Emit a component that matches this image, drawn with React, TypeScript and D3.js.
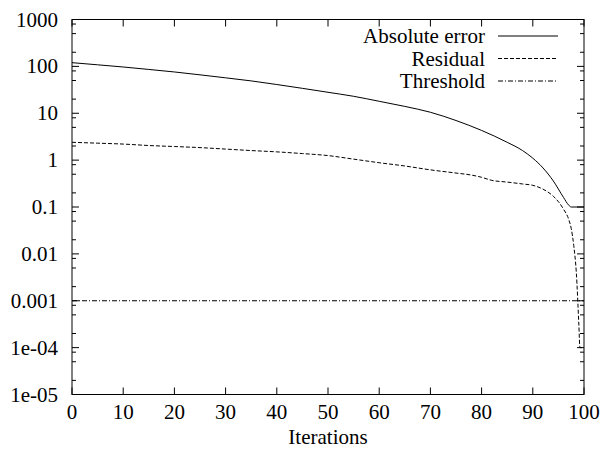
import React from 'react';
import * as d3 from 'd3';

// values
const absIter = [0, 5, 10, 15, 20, 25, 30, 35, 40, 45, 50, 55, 60, 65, 70, 75, 80, 85, 88, 90, 92, 94, 96, 97, 97.5, 100];
const absErr = [120, 108, 97, 86, 76, 66, 57, 49, 41, 34, 28, 23, 18, 14, 10.5, 7, 4.3, 2.4, 1.6, 1.1, 0.68, 0.36, 0.16, 0.11, 0.1, 0.1];

const resIter = [0, 5, 10, 15, 20, 25, 30, 35, 40, 45, 50, 55, 60, 65, 70, 75, 78, 80, 82, 85, 88, 90, 92, 94, 95, 96, 97, 97.5, 98, 98.5, 99, 99.2, 100];
const resVal = [2.4, 2.3, 2.2, 2.05, 1.95, 1.85, 1.72, 1.6, 1.5, 1.38, 1.25, 1.05, 0.88, 0.75, 0.62, 0.53, 0.48, 0.43, 0.37, 0.34, 0.31, 0.29, 0.24, 0.17, 0.13, 0.09, 0.055, 0.035, 0.015, 0.004, 0.0003, 0.0001, 0.0001];

const threshold = 0.001;

const xTicks = [0, 10, 20, 30, 40, 50, 60, 70, 80, 90, 100];
const yTicks = [1000, 100, 10, 1, 0.1, 0.01, 0.001, 1e-4, 1e-5];
const yTickLabels = ['1000', '100', '10', '1', '0.1', '0.01', '0.001', '1e-04', '1e-05'];
const minorSteps = [2, 5, 8];

const legendNames = ['Absolute error', 'Residual', 'Threshold'];
const legendDash = ['none', '4,2', '5,2,1,2'];

const W = 606;
const H = 461;
const left = 72, right = 584, top = 19.5, bottom = 394.5;
const serif = { fontFamily: 'Liberation Serif' };

export default function App() {
  const x = d3.scaleLinear().domain([0, 100]).range([left, right]);
  const y = d3.scaleLog().domain([1e-5, 1000]).range([bottom, top]);

  const line = d3.line<[number, number]>()
    .x(d => x(d[0]))
    .y(d => y(d[1]))
    .curve(d3.curveMonotoneX);

  const absPath = line(absIter.map((t, i) => [t, absErr[i]]) as [number, number][]) || '';
  const resPath = line(resIter.map((t, i) => [t, resVal[i]]) as [number, number][]) || '';
  const thrPath = d3.line<[number, number]>().x(d => x(d[0])).y(d => y(d[1]))([[0, threshold], [100, threshold]]) || '';

  const minors: number[] = [];
  yTicks.slice(1).forEach(d => minorSteps.forEach(k => minors.push(d * k)));

  const major = 7, minor = 4;

  return (
    <svg width={W} height={H} style={{ position: 'absolute', left: 0, top: 0, background: '#fff' }}>
      {/* x ticks, mirrored on top */}
      {xTicks.map(t => (
        <g key={'x' + t}>
          <line x1={x(t)} x2={x(t)} y1={bottom} y2={bottom - major} stroke="#000" />
          <line x1={x(t)} x2={x(t)} y1={top} y2={top + major} stroke="#000" />
          <text x={x(t)} y={419} textAnchor="middle" fontSize={21} style={serif}>{t}</text>
        </g>
      ))}
      {/* y ticks, mirrored on right */}
      {yTicks.map((t, i) => (
        <g key={'y' + t}>
          <line x1={left} x2={left + major} y1={y(t)} y2={y(t)} stroke="#000" />
          <line x1={right} x2={right - major} y1={y(t)} y2={y(t)} stroke="#000" />
          <text x={58} y={y(t) + 7} textAnchor="end" fontSize={21} style={serif}>{yTickLabels[i]}</text>
        </g>
      ))}
      {minors.map(t => (
        <g key={'m' + t}>
          <line x1={left} x2={left + minor} y1={y(t)} y2={y(t)} stroke="#000" />
          <line x1={right} x2={right - minor} y1={y(t)} y2={y(t)} stroke="#000" />
        </g>
      ))}

      <path d={absPath} fill="none" stroke="#000" strokeWidth={1} />
      <path d={resPath} fill="none" stroke="#000" strokeWidth={1} strokeDasharray="4,2" />
      <path d={thrPath} fill="none" stroke="#000" strokeWidth={1} strokeDasharray="5,2,1,2" />

      <rect x={left} y={top} width={right - left} height={bottom - top} fill="none" stroke="#000" />

      {legendNames.map((n, i) => (
        <g key={n}>
          <text x={485} y={36 + i * 22.5 + 7} textAnchor="end" fontSize={21} style={serif}>{n}</text>
          <line x1={498} x2={558} y1={36 + i * 22.5} y2={36 + i * 22.5} stroke="#000"
            strokeDasharray={legendDash[i]} />
        </g>
      ))}

      <text x={(left + right) / 2} y={444} textAnchor="middle" fontSize={21} style={serif}>Iterations</text>
    </svg>
  );
}
